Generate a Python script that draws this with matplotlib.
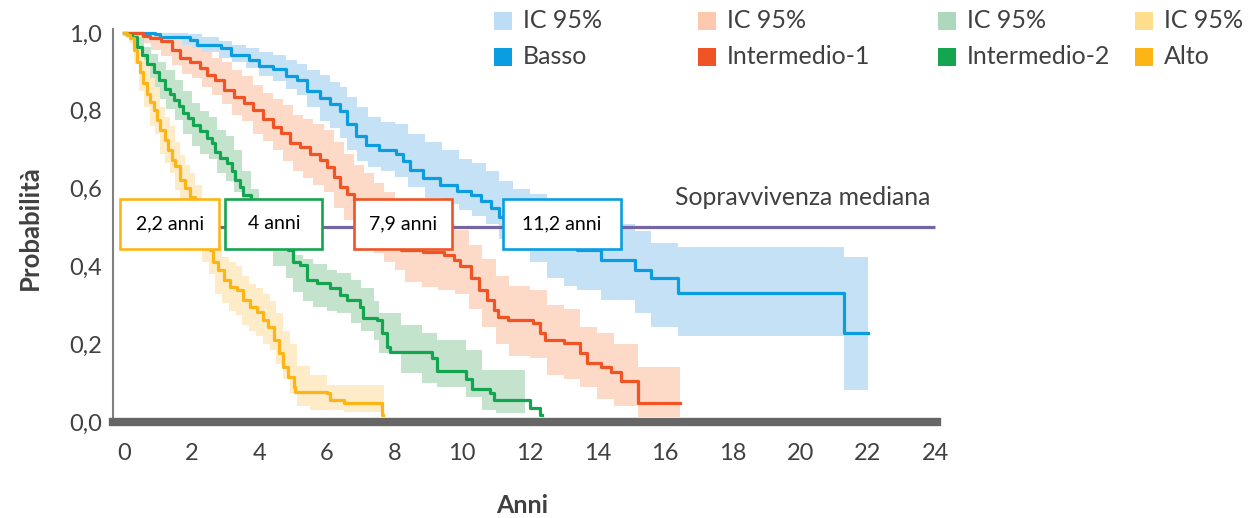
import matplotlib.pyplot as plt
from matplotlib.patches import Rectangle

plt.rcParams['font.family'] = ['Lato', 'DejaVu Sans']

# ---- dati ----
basso_t = [0, 0.9, 1.05, 1.95, 2.15, 2.85, 3.15, 3.7, 4.0, 4.4, 4.8, 5.1, 5.4, 5.8, 6.1,
           6.4, 6.6, 6.85, 7.15, 7.55, 8.05, 8.25, 8.45, 8.85, 9.35, 9.85, 10.25, 10.55,
           10.85, 11.1, 11.3, 11.8, 12.4, 13.0, 13.4, 14.1, 15.1, 15.6, 16.4, 21.3, 22.0]
basso_s = [1.0, 0.997, 0.99, 0.983, 0.97, 0.961, 0.944, 0.931, 0.914, 0.906, 0.889, 0.88,
           0.85, 0.833, 0.816, 0.8, 0.765, 0.735, 0.712, 0.7, 0.69, 0.672, 0.648, 0.628,
           0.61, 0.594, 0.584, 0.567, 0.55, 0.527, 0.5, 0.48, 0.46, 0.45, 0.442, 0.416,
           0.39, 0.369, 0.331, 0.228, 0.228]
basso_ci_t = [0, 0.9, 1.1, 1.5, 1.9, 2.3, 2.8, 3.2, 3.6, 4.0, 4.4, 4.8, 5.1, 5.4, 5.8, 6.1,
              6.4, 6.6, 6.9, 7.2, 7.6, 8.0, 8.4, 8.9, 9.4, 9.9, 10.3, 10.7, 11.1, 11.5,
              12.0, 12.5, 13.0, 13.4, 14.1, 15.1, 15.6, 16.4, 21.3, 22.0]
basso_ci_hi = [1.0, 1.0, 1.0, 1.0, 0.996, 0.99, 0.979, 0.97, 0.961, 0.952, 0.944, 0.93,
               0.919, 0.905, 0.893, 0.875, 0.86, 0.835, 0.81, 0.785, 0.77, 0.765, 0.74,
               0.72, 0.7, 0.675, 0.665, 0.645, 0.62, 0.6, 0.585, 0.57, 0.55, 0.53, 0.51,
               0.49, 0.46, 0.45, 0.425, 0.425]
basso_ci_lo = [1.0, 0.99, 0.978, 0.97, 0.961, 0.95, 0.936, 0.925, 0.91, 0.89, 0.876, 0.855,
               0.841, 0.81, 0.773, 0.755, 0.73, 0.7, 0.67, 0.655, 0.645, 0.63, 0.605, 0.575,
               0.56, 0.545, 0.53, 0.51, 0.47, 0.44, 0.41, 0.37, 0.35, 0.34, 0.314, 0.279,
               0.245, 0.222, 0.082, 0.082]

int1_t = [0, 0.55, 0.77, 1.1, 1.4, 1.65, 1.95, 2.25, 2.45, 2.7, 2.95, 3.25, 3.55, 3.8, 4.1,
          4.4, 4.65, 4.9, 5.2, 5.5, 5.8, 6.0, 6.2, 6.4, 6.6, 6.8, 7.1, 7.4, 7.9, 8.2, 8.85,
          9.45, 9.75, 9.95, 10.25, 10.5, 10.75, 10.95, 11.05, 11.35, 12.1, 12.3, 12.45, 13.0,
          13.5, 13.7, 14.1, 14.4, 14.7, 15.2, 16.45]
int1_s = [1.0, 0.993, 0.986, 0.978, 0.956, 0.935, 0.926, 0.909, 0.892, 0.879, 0.853, 0.836,
          0.819, 0.802, 0.78, 0.759, 0.742, 0.716, 0.707, 0.69, 0.673, 0.656, 0.63, 0.604,
          0.587, 0.57, 0.55, 0.525, 0.5, 0.442, 0.437, 0.43, 0.416, 0.4, 0.37, 0.339, 0.314,
          0.288, 0.271, 0.262, 0.254, 0.228, 0.211, 0.202, 0.177, 0.151, 0.142, 0.129, 0.106,
          0.048, 0.048]
int1_ci_t = [0, 0.5, 0.8, 1.1, 1.4, 1.7, 2.0, 2.3, 2.6, 2.9, 3.2, 3.5, 3.8, 4.1, 4.4, 4.7,
             5.0, 5.3, 5.6, 5.9, 6.2, 6.5, 6.8, 7.1, 7.4, 7.7, 8.0, 8.3, 8.8, 9.3, 9.8, 10.2,
             10.6, 11.0, 11.4, 12.0, 12.5, 13.0, 13.5, 14.0, 14.5, 15.2, 16.45]
int1_ci_hi = [1.0, 1.0, 1.0, 0.995, 0.985, 0.97, 0.96, 0.95, 0.935, 0.925, 0.905, 0.89,
              0.865, 0.845, 0.83, 0.815, 0.79, 0.78, 0.765, 0.75, 0.72, 0.69, 0.66, 0.64,
              0.615, 0.59, 0.57, 0.535, 0.52, 0.51, 0.494, 0.455, 0.42, 0.374, 0.35, 0.34,
              0.3, 0.29, 0.245, 0.23, 0.2, 0.142, 0.142]
int1_ci_lo = [1.0, 0.975, 0.955, 0.94, 0.918, 0.895, 0.884, 0.86, 0.84, 0.816, 0.79, 0.773,
              0.74, 0.722, 0.7, 0.67, 0.645, 0.627, 0.61, 0.59, 0.55, 0.52, 0.48, 0.46,
              0.435, 0.41, 0.39, 0.36, 0.348, 0.34, 0.33, 0.29, 0.245, 0.2, 0.17, 0.165,
              0.12, 0.11, 0.091, 0.06, 0.04, 0.012, 0.012]

int2_t = [0, 0.08, 0.23, 0.38, 0.52, 0.67, 0.87, 1.02, 1.21, 1.36, 1.46, 1.61, 1.75, 1.9,
          2.05, 2.25, 2.45, 2.59, 2.69, 2.84, 3.04, 3.19, 3.28, 3.43, 3.53, 3.75, 4.0, 4.3,
          4.6, 4.86, 5.0, 5.21, 5.41, 5.7, 6.09, 6.39, 6.59, 6.98, 7.08, 7.48, 7.62, 7.77,
          7.87, 9.1, 9.25, 10.1, 10.3, 10.83, 10.93, 12.0, 12.3, 12.35]
int2_s = [1.0, 0.995, 0.99, 0.963, 0.943, 0.921, 0.9, 0.878, 0.857, 0.844, 0.828, 0.811,
          0.794, 0.781, 0.764, 0.747, 0.729, 0.716, 0.695, 0.678, 0.665, 0.644, 0.622, 0.605,
          0.584, 0.54, 0.5, 0.475, 0.455, 0.442, 0.412, 0.404, 0.365, 0.357, 0.344, 0.326,
          0.314, 0.296, 0.267, 0.262, 0.228, 0.194, 0.181, 0.165, 0.13, 0.11, 0.085, 0.074,
          0.057, 0.035, 0.018, 0.018]
int2_ci_t = [0, 0.2, 0.4, 0.6, 0.8, 1.0, 1.25, 1.5, 1.75, 2.0, 2.25, 2.5, 2.75, 3.0, 3.25,
             3.5, 3.75, 4.0, 4.4, 4.8, 5.0, 5.3, 5.6, 6.0, 6.3, 6.7, 7.0, 7.4, 7.55, 8.2,
             8.8, 9.25, 10.1, 10.6, 11.0, 11.85]
int2_ci_hi = [1.0, 1.0, 0.99, 0.965, 0.945, 0.925, 0.905, 0.88, 0.85, 0.82, 0.8, 0.785,
              0.75, 0.735, 0.7, 0.645, 0.6, 0.56, 0.52, 0.46, 0.43, 0.42, 0.405, 0.39, 0.382,
              0.365, 0.345, 0.31, 0.279, 0.249, 0.23, 0.211, 0.185, 0.134, 0.134, 0.134]
int2_ci_lo = [1.0, 0.975, 0.935, 0.88, 0.855, 0.83, 0.805, 0.775, 0.74, 0.71, 0.69, 0.675,
              0.64, 0.62, 0.59, 0.525, 0.48, 0.44, 0.4, 0.37, 0.335, 0.31, 0.296, 0.285,
              0.279, 0.255, 0.235, 0.211, 0.177, 0.125, 0.1, 0.091, 0.065, 0.03, 0.022, 0.022]

alto_t = [0, 0.08, 0.18, 0.28, 0.38, 0.47, 0.57, 0.67, 0.77, 0.87, 0.97, 1.07, 1.21, 1.31,
          1.41, 1.51, 1.66, 1.8, 1.95, 2.1, 2.2, 2.35, 2.54, 2.64, 2.79, 2.94, 3.14, 3.33,
          3.53, 3.73, 3.93, 4.12, 4.27, 4.42, 4.57, 4.71, 4.86, 5.01, 5.06, 6.0, 6.09, 6.49,
          7.64, 7.66]
alto_s = [1.0, 0.995, 0.986, 0.956, 0.926, 0.9, 0.87, 0.844, 0.823, 0.802, 0.776, 0.751,
          0.725, 0.699, 0.674, 0.657, 0.622, 0.601, 0.579, 0.55, 0.5, 0.47, 0.442, 0.412,
          0.39, 0.365, 0.348, 0.339, 0.314, 0.296, 0.284, 0.262, 0.245, 0.211, 0.177, 0.142,
          0.116, 0.091, 0.078, 0.074, 0.057, 0.048, 0.018, 0.018]
alto_ci_t = [0, 0.15, 0.3, 0.45, 0.6, 0.75, 0.9, 1.05, 1.2, 1.35, 1.5, 1.65, 1.8, 1.95, 2.1,
             2.3, 2.5, 2.7, 2.9, 3.1, 3.3, 3.5, 3.7, 3.9, 4.1, 4.3, 4.5, 4.7, 4.9, 5.1, 5.5,
             6.0, 6.5, 7.7]
alto_ci_hi = [1.0, 1.0, 0.995, 0.96, 0.93, 0.885, 0.86, 0.81, 0.785, 0.76, 0.72, 0.685,
              0.66, 0.64, 0.61, 0.535, 0.505, 0.455, 0.425, 0.41, 0.4, 0.375, 0.355, 0.345,
              0.33, 0.31, 0.28, 0.235, 0.2, 0.145, 0.12, 0.095, 0.095, 0.095]
alto_ci_lo = [1.0, 0.975, 0.92, 0.85, 0.81, 0.76, 0.74, 0.69, 0.665, 0.64, 0.595, 0.56,
              0.54, 0.52, 0.49, 0.41, 0.38, 0.33, 0.305, 0.285, 0.275, 0.25, 0.235, 0.22,
              0.2, 0.185, 0.15, 0.11, 0.075, 0.04, 0.03, 0.03, 0.025, 0.025]

gruppi = ["Basso", "Intermedio-1", "Intermedio-2", "Alto"]
mediane = ["11,2 anni", "7,9 anni", "4 anni", "2,2 anni"]
x_ticks = list(range(0, 25, 2))
y_ticks = [0.0, 0.2, 0.4, 0.6, 0.8, 1.0]

# ---- stile ----
col_linea = ["#0A9EE0", "#F05424", "#14A550", "#FDB515"]
col_banda = ["#C4E1F6", "#FDD9C8", "#C3E3CC", "#FEEBC8"]
col_leg_banda = ["#BCDDF5", "#FCC8AE", "#ADD8BB", "#FEDD8C"]
testo = "#404040"

curve = [(basso_t, basso_s, basso_ci_t, basso_ci_lo, basso_ci_hi),
         (int1_t, int1_s, int1_ci_t, int1_ci_lo, int1_ci_hi),
         (int2_t, int2_s, int2_ci_t, int2_ci_lo, int2_ci_hi),
         (alto_t, alto_s, alto_ci_t, alto_ci_lo, alto_ci_hi)]

fig = plt.figure(figsize=(12.56, 5.18), dpi=100)
ax = fig.add_axes([0.09, 0.1853, 0.656, 0.7587])

for (t, s, ct, lo, hi), cb in zip(curve, col_banda):
    ax.fill_between(ct, lo, hi, step="post", color=cb, lw=0, zorder=1)

# linea sopravvivenza mediana
ax.plot([0, 24], [0.5, 0.5], color="#7566A2", lw=2.3, zorder=2, solid_capstyle="butt")
ax.text(23.85, 0.558, "Sopravvivenza mediana", ha="right", va="baseline",
        fontsize=17.8, color=testo, zorder=5)

for (t, s, ct, lo, hi), cl in zip(curve, col_linea):
    ax.step(t, s, where="post", color=cl, lw=2.3, zorder=3)

# riquadri con la mediana (centro x, larghezza in anni)
box_cx = [12.96, 8.25, 4.43, 1.35]
box_w = [3.5, 2.9, 2.87, 2.93]
box_h = 0.128
for cx, w, lab, cl in zip(box_cx, box_w, mediane, col_linea):
    ax.add_patch(Rectangle((cx - w / 2, 0.509 - box_h / 2), w, box_h, fc="white",
                           ec=cl, lw=1.9, zorder=6))
    ax.text(cx, 0.509, lab, ha="center", va="center", fontsize=14, color="black", zorder=7)

ax.set_xlim(-0.33, 24.05)
ax.set_ylim(0, 1.01)
ax.set_xticks(x_ticks)
ax.set_xticklabels([str(v) for v in x_ticks])
ax.set_yticks(y_ticks)
ax.set_yticklabels([f"{v:.1f}".replace(".", ",") for v in y_ticks])
ax.tick_params(length=0, labelsize=17, labelcolor=testo)
ax.tick_params(axis="x", pad=15)
ax.tick_params(axis="y", pad=8)

for side in ["top", "right"]:
    ax.spines[side].set_visible(False)
ax.spines["left"].set_color("#808080")
ax.spines["left"].set_linewidth(1.5)
ax.spines["bottom"].set_color("#666666")
ax.spines["bottom"].set_linewidth(6)
ax.spines["bottom"].set_zorder(8)

fig.text(0.024, 0.56, "Probabilità", rotation=90, ha="center", va="center",
         fontsize=18.5, fontweight="bold", color=testo)
fig.text(0.416, 0.025, "Anni", ha="center", va="center",
         fontsize=18, fontweight="bold", color=testo)

# legenda costruita a mano su griglia 4x2
leg_x = [494, 698, 938, 1135]
leg_y = [21, 57]
W, H = 1256, 518
for i in range(4):
    for j, (c, lab) in enumerate([(col_leg_banda[i], "IC 95%"), (col_linea[i], gruppi[i])]):
        x0 = leg_x[i] / W
        y0 = 1 - (leg_y[j] + 9) / H
        fig.add_artist(Rectangle((x0, y0), 18 / W, 18 / H, fc=c, lw=0,
                                 transform=fig.transFigure))
        fig.text(x0 + 29 / W, 1 - leg_y[j] / H, lab, ha="left", va="center",
                 fontsize=18, color=testo)

fig.savefig("out.png", dpi=100)
